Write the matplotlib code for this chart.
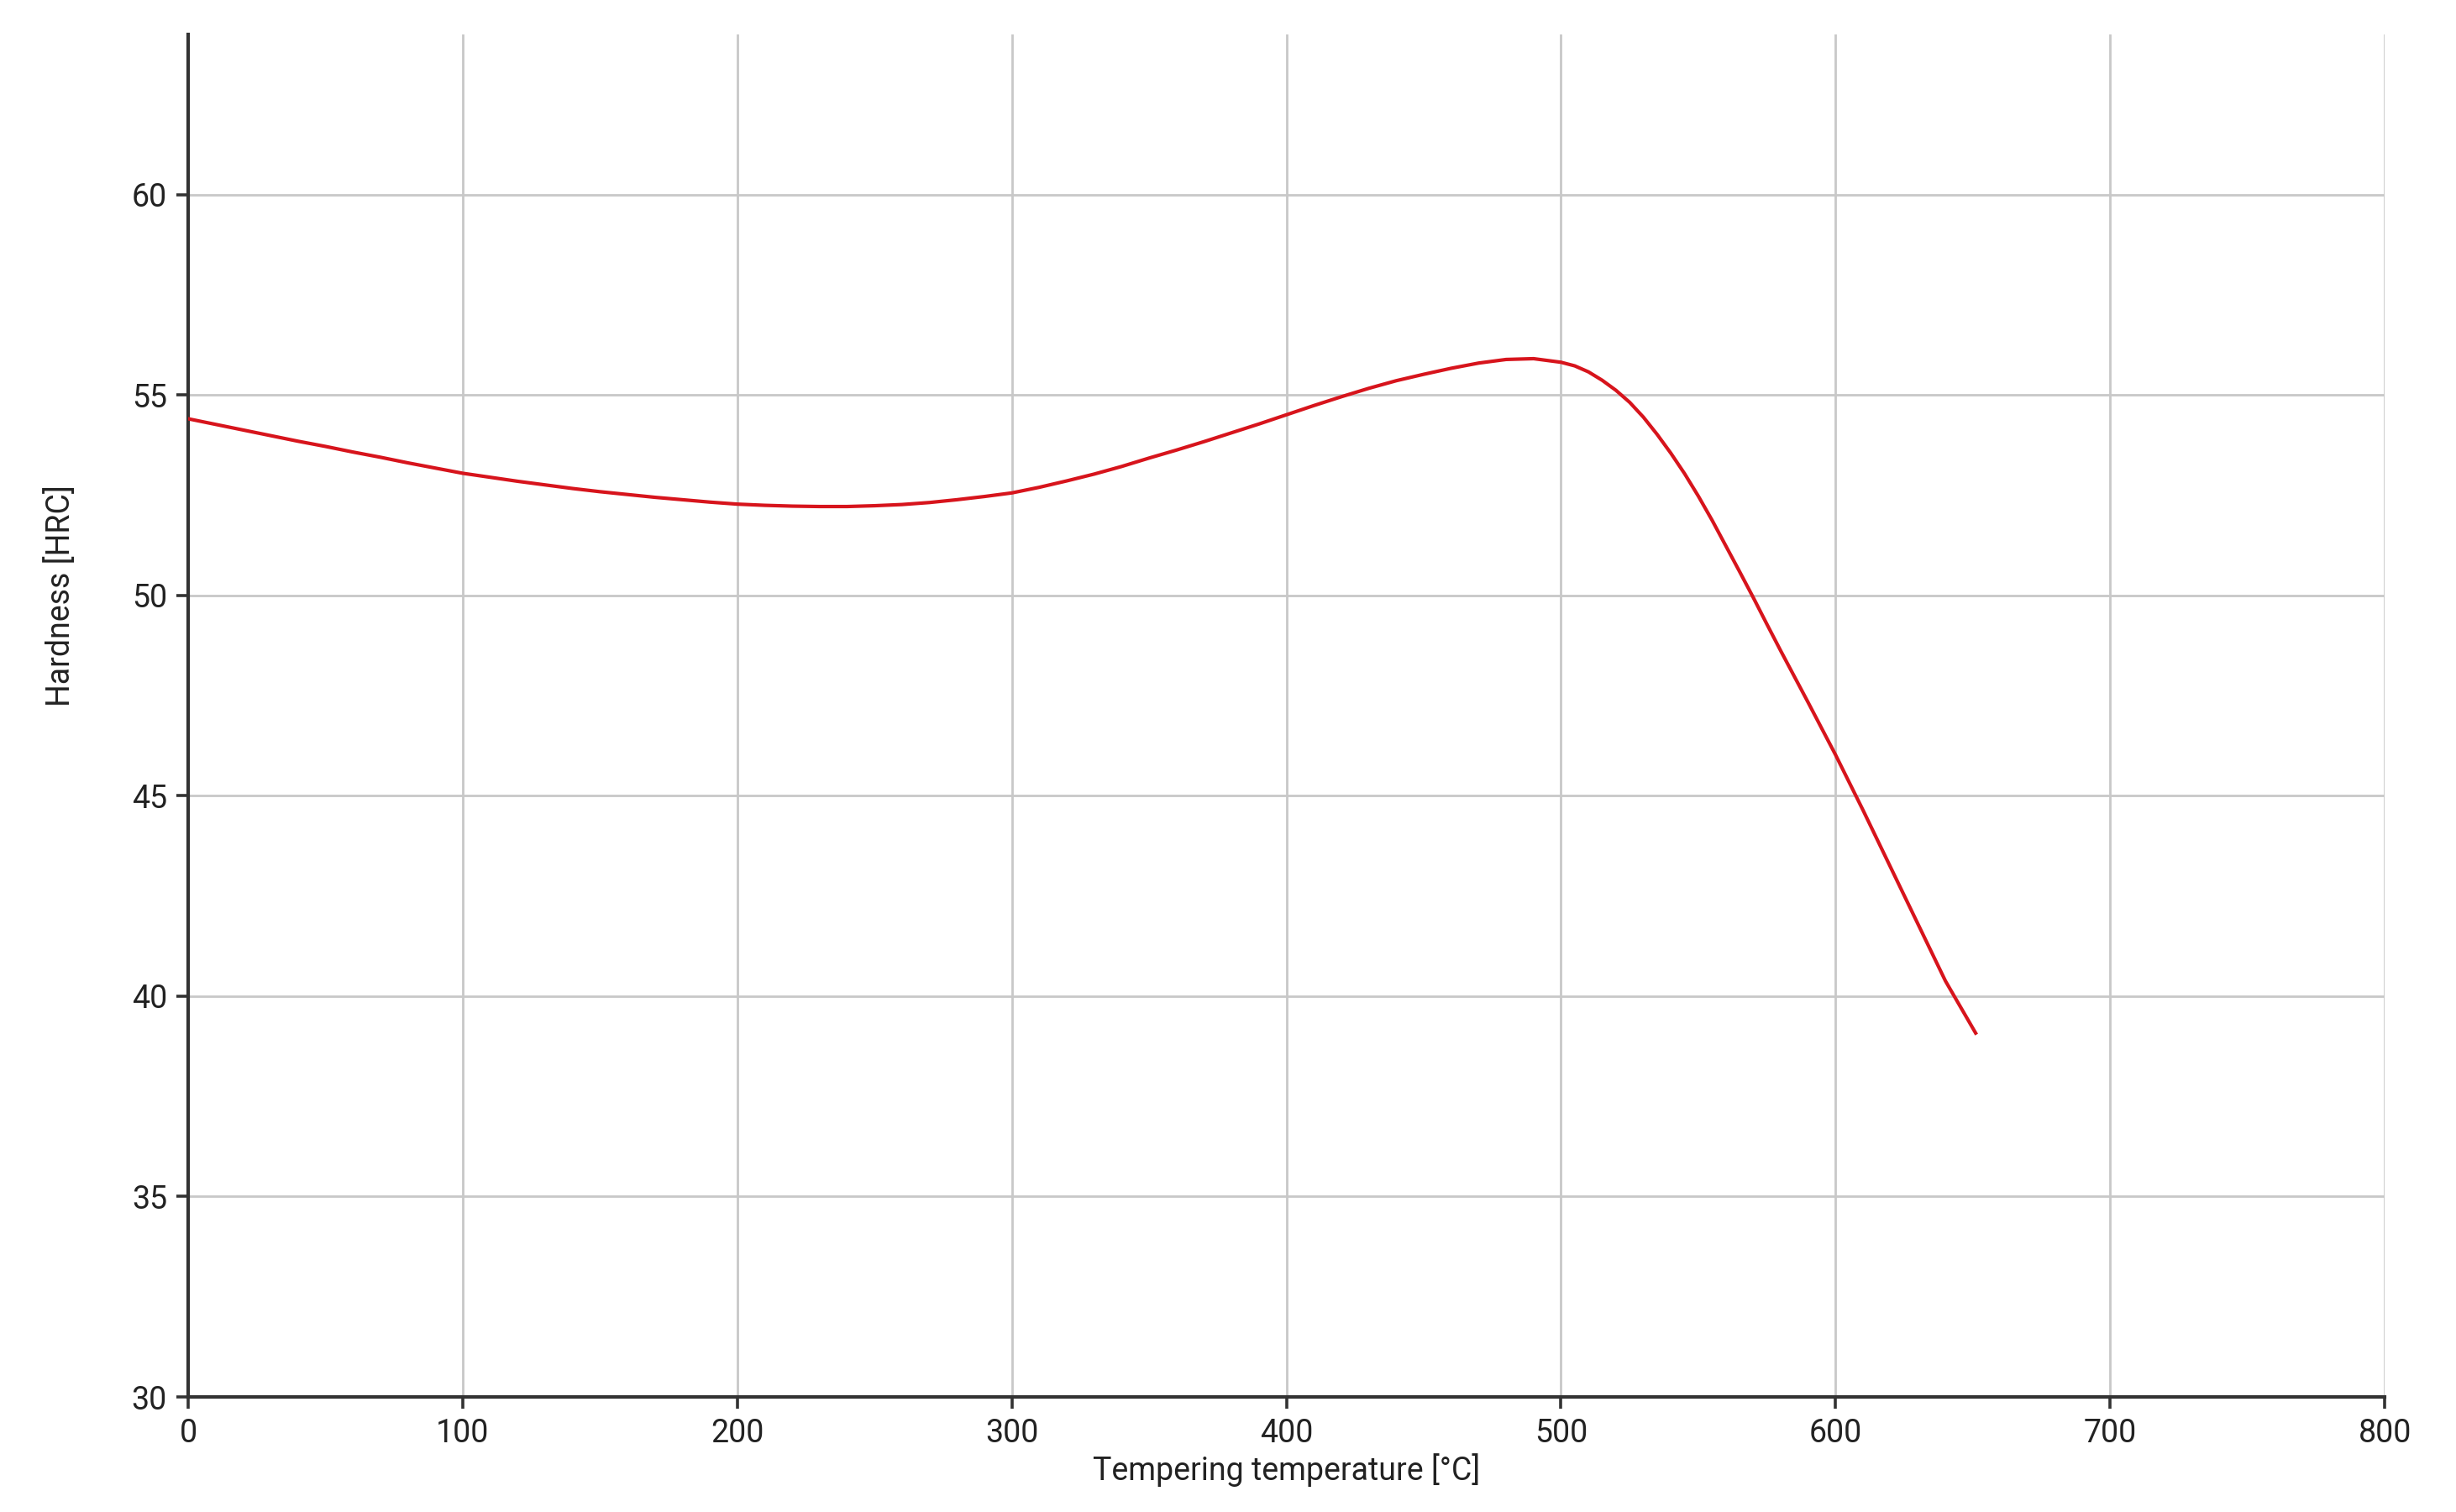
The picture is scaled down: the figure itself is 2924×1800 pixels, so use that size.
import matplotlib.pyplot as plt

plt.rcParams['font.family'] = ['Roboto', 'DejaVu Sans']

# tempering curve
temperature = [0, 10, 20, 30, 40, 50, 60, 70, 80, 90,
               100, 110, 120, 130, 140, 150, 160, 170, 180, 190,
               200, 210, 220, 230, 240, 250, 260, 270, 280, 290,
               300, 310, 320, 330, 340, 350, 360, 370, 380, 390,
               400, 410, 420, 430, 440, 450, 460, 470, 480, 490,
               500, 505, 510, 515, 520, 525, 530, 535, 540, 545,
               550, 555, 560, 565, 570, 575, 580, 590, 600, 610,
               620, 630, 640, 651]
hardness = [54.41, 54.27, 54.13, 53.99, 53.85, 53.72, 53.58, 53.45, 53.31, 53.18,
            53.05, 52.95, 52.85, 52.76, 52.67, 52.59, 52.52, 52.45, 52.39, 52.33,
            52.28, 52.25, 52.23, 52.22, 52.22, 52.24, 52.27, 52.32, 52.39, 52.47,
            52.56, 52.70, 52.86, 53.03, 53.22, 53.43, 53.63, 53.84, 54.06, 54.28,
            54.51, 54.74, 54.96, 55.17, 55.36, 55.52, 55.67, 55.80, 55.89, 55.91,
            55.82, 55.73, 55.58, 55.37, 55.12, 54.82, 54.45, 54.02, 53.55, 53.04,
            52.48, 51.88, 51.24, 50.60, 49.95, 49.28, 48.62, 47.33, 46.02, 44.64,
            43.22, 41.80, 40.38, 39.08]

x_ticks = [0, 100, 200, 300, 400, 500, 600, 700, 800]
y_ticks = [30, 35, 40, 45, 50, 55, 60]

fig = plt.figure(figsize=(14.62, 9), dpi=200)
ax = fig.add_axes([0.0766, 0.0761, 0.8944, 0.9011])

ax.plot(temperature, hardness, color='#d7141c', linewidth=1.5,
        solid_joinstyle='round', zorder=3)

ax.set_xlim(0, 800)
ax.set_ylim(30, 64)
ax.set_xticks(x_ticks)
ax.set_yticks(y_ticks)
ax.grid(True, color='#c8c8c8', linewidth=1.0)
ax.set_axisbelow(True)

for side in ['top', 'right']:
    ax.spines[side].set_visible(False)
for side in ['left', 'bottom']:
    ax.spines[side].set_color('#333333')
    ax.spines[side].set_linewidth(1.5)

ax.tick_params(axis='both', direction='out', length=5, width=1.3,
               color='#333333', labelsize=13.5, labelcolor='#222222', pad=4)

ax.set_xlabel('Tempering temperature [°C]', fontsize=13.5, color='#222222', labelpad=2)
ax.set_ylabel('Hardness [HRC]', fontsize=13.5, color='#222222')
ax.yaxis.set_label_coords(-0.051, 0.588)

fig.savefig('out.png', dpi=200, facecolor='white')
